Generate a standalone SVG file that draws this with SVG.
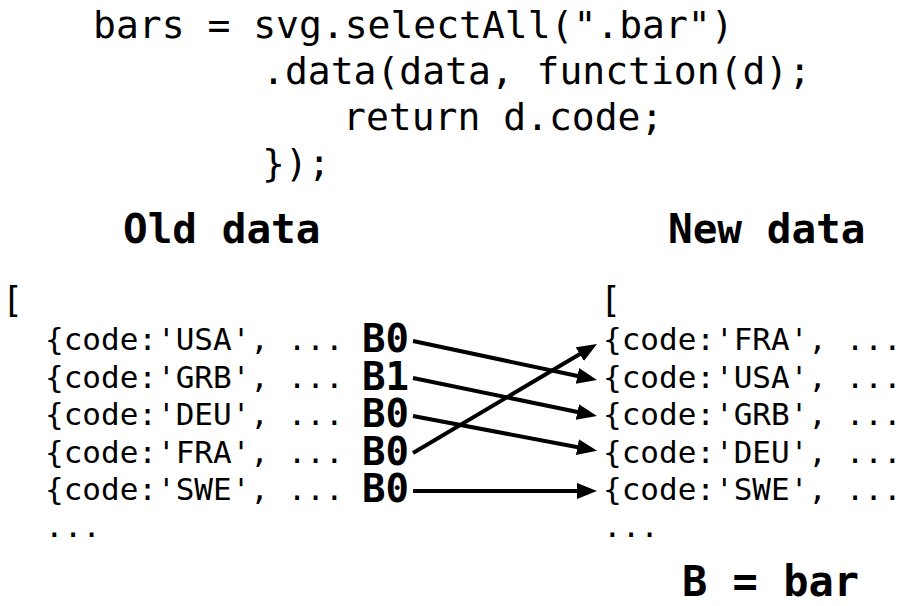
<svg xmlns="http://www.w3.org/2000/svg" width="901" height="606" viewBox="0 0 901 606">
<defs>
<style>
text{font-family:"DejaVu Sans Mono","Liberation Mono",monospace;fill:#000;white-space:pre}
.code{font-size:38px}
.head{font-size:41px;font-weight:bold}
.row{font-size:31px}
.brk{font-size:35px}
.b{font-size:39px;font-weight:bold}
.legend{font-size:42px;font-weight:bold}
.arr{stroke:#000;stroke-width:4;fill:none;marker-end:url(#ah)}
</style>
<marker id="ah" markerUnits="userSpaceOnUse" markerWidth="22" markerHeight="18" refX="10" refY="8" orient="auto" viewBox="0 0 22 18">
<path d="M0,0 L20,8 L0,16 z" fill="#000"/>
</marker>
</defs>
<rect width="901" height="606" fill="#fff"/>
<g id="code">
<text class="code" x="93" y="38">bars = svg.selectAll(".bar")</text>
<text class="code" x="262" y="84">.data(data, function(d);</text>
<text class="code" x="343" y="130">return d.code;</text>
<text class="code" x="262" y="176">});</text>
</g>
<g id="old-data">
<text class="head" x="123" y="243">Old data</text>
<text class="brk" x="2" y="312">[</text>
<text class="row" x="45" y="350">{code:'USA', ...</text>
<text class="row" x="45" y="388">{code:'GRB', ...</text>
<text class="row" x="45" y="425">{code:'DEU', ...</text>
<text class="row" x="45" y="463">{code:'FRA', ...</text>
<text class="row" x="45" y="500">{code:'SWE', ...</text>
<text class="row" x="45" y="537">...</text>
</g>
<g id="bars">
<text class="b" x="362" y="352">B0</text>
<text class="b" x="362" y="390">B1</text>
<text class="b" x="362" y="427">B0</text>
<text class="b" x="362" y="465">B0</text>
<text class="b" x="362" y="502">B0</text>
</g>
<g id="new-data">
<text class="head" x="668" y="243">New data</text>
<text class="brk" x="600" y="312">[</text>
<text class="row" x="603" y="350">{code:'FRA', ...</text>
<text class="row" x="603" y="388">{code:'USA', ...</text>
<text class="row" x="603" y="425">{code:'GRB', ...</text>
<text class="row" x="603" y="463">{code:'DEU', ...</text>
<text class="row" x="603" y="500">{code:'SWE', ...</text>
<text class="row" x="603" y="537">...</text>
</g>
<g id="legend">
<text class="legend" x="682" y="596">B = bar</text>
</g>
<g id="connectors">
<line class="arr" x1="413" y1="341" x2="587.2" y2="378"/>
<line class="arr" x1="413" y1="378" x2="587.2" y2="414"/>
<line class="arr" x1="413" y1="416" x2="587.2" y2="449"/>
<line class="arr" x1="413" y1="453" x2="588.4" y2="349"/>
<line class="arr" x1="413" y1="491" x2="587" y2="491"/>
</g>
</svg>
